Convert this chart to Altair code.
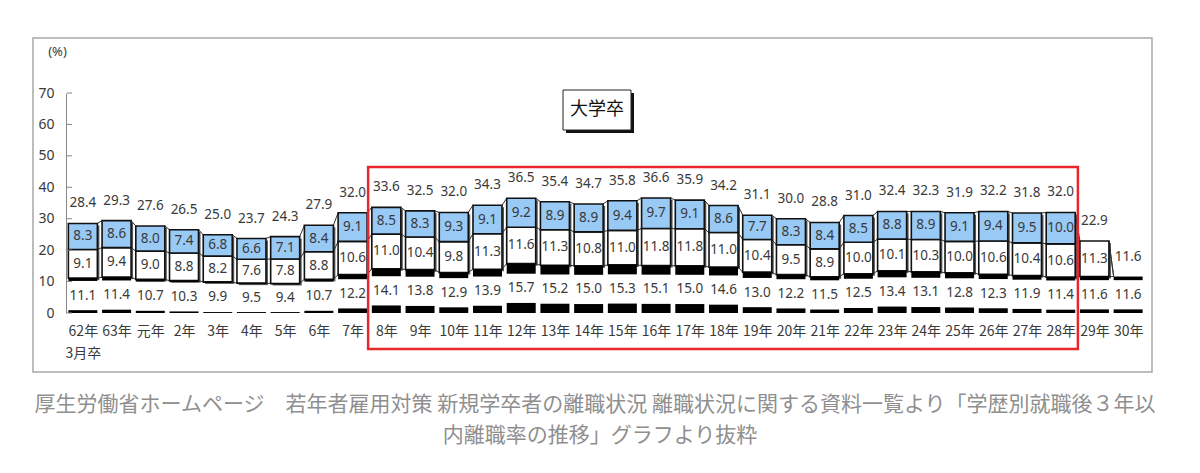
import altair as alt
import pandas as pd

categories = ["62年", "63年", "元年", "2年", "3年", "4年", "5年", "6年", "7年",
              "8年", "9年", "10年", "11年", "12年", "13年", "14年", "15年", "16年", "17年", "18年",
              "19年", "20年", "21年", "22年", "23年", "24年", "25年", "26年", "27年", "28年",
              "29年", "30年"]
year1 = [11.1, 11.4, 10.7, 10.3, 9.9, 9.5, 9.4, 10.7, 12.2,
         14.1, 13.8, 12.9, 13.9, 15.7, 15.2, 15.0, 15.3, 15.1, 15.0, 14.6,
         13.0, 12.2, 11.5, 12.5, 13.4, 13.1, 12.8, 12.3, 11.9, 11.4,
         11.6, 11.6]
year2 = [9.1, 9.4, 9.0, 8.8, 8.2, 7.6, 7.8, 8.8, 10.6,
         11.0, 10.4, 9.8, 11.3, 11.6, 11.3, 10.8, 11.0, 11.8, 11.8, 11.0,
         10.4, 9.5, 8.9, 10.0, 10.1, 10.3, 10.0, 10.6, 10.4, 10.6,
         11.3, None]
year3 = [8.3, 8.6, 8.0, 7.4, 6.8, 6.6, 7.1, 8.4, 9.1,
         8.5, 8.3, 9.3, 9.1, 9.2, 8.9, 8.9, 9.4, 9.7, 9.1, 8.6,
         7.7, 8.3, 8.4, 8.5, 8.8, 8.9, 9.1, 9.4, 9.5, 10.0,
         None, None]
totals = [28.4, 29.3, 27.6, 26.5, 25.0, 23.7, 24.3, 27.9, 32.0,
          33.6, 32.5, 32.0, 34.3, 36.5, 35.4, 34.7, 35.8, 36.6, 35.9, 34.2,
          31.1, 30.0, 28.8, 31.0, 32.4, 32.3, 31.9, 32.2, 31.8, 32.0,
          22.9, 11.6]
y_ticks = [0, 10, 20, 30, 40, 50, 60, 70]
highlight = ["8年", "28年"]
title_text = "大学卒"
caption1 = "厚生労働省ホームページ　若年者雇用対策 新規学卒者の離職状況 離職状況に関する資料一覧より「学歴別就職後３年以"
caption2 = "内離職率の推移」グラフより抜粋"

HALF = 0.43
FONT = "Noto Sans, Noto Sans CJK JP"
JFONT = "Noto Sans CJK JP"
BLUE = "#99c9f5"
TXT = "#3a3a3a"

rows = []
for i, c in enumerate(categories):
    v1 = year1[i]
    v2 = year2[i]
    v3 = year3[i]
    c1 = v1
    c2 = c1 + (v2 or 0)
    c3 = c2 + (v3 or 0)
    band = max((v1 - 9.3) / 2, 0.3)
    rows.append(dict(idx=i, cat=c, v1=v1, v2=v2, v3=v3, c1=c1, c2=c2, c3=c3,
                     total=totals[i], left=i - HALF, right=i + HALF, band=band,
                     bandtop=c1 - band, m1=c1 / 2,
                     m2=(c1 + c2) / 2, m3=(c2 + c3) / 2))
df = pd.DataFrame(rows)

# series lines between adjacent bars
lines = []
for i in range(len(categories) - 1):
    a, b = rows[i], rows[i + 1]
    for lvl in ("c1", "c2", "c3"):
        lines.append(dict(x=a["right"], x2=b["left"], y=a[lvl], y2=b[lvl]))
ldf = pd.DataFrame(lines)

xscale = alt.Scale(domain=[-0.5, len(categories) - 0.5], nice=False, zero=False)
yscale = alt.Scale(domain=[0, 70], nice=False)

label_arr = "[" + ",".join("'" + c + "'" for c in categories) + "]"
label_expr = f"datum.value == 0 ? ['62年','   3月卒'] : {label_arr}[datum.value]"

xaxis = alt.Axis(values=list(range(len(categories))), labelExpr=label_expr,
                 domain=False, ticks=False, grid=False, title=None,
                 labelFont=JFONT, labelFontSize=14, labelColor=TXT,
                 labelPadding=11, labelBaseline="top", labelLineHeight=22,
                 labelAngle=0, labelOverlap=False, labelBound=False)
yaxis = alt.Axis(values=y_ticks, domainColor="#888", ticks=False, grid=False,
                 labelFont=FONT, labelFontSize=14, labelColor=TXT, labelPadding=12,
                 labelOverlap=False, labelBound=False,
                 title="(%)", titleAngle=0, titleX=-9, titleY=-35,
                 titleFont=FONT, titleFontSize=13, titleFontWeight="normal",
                 titleColor=TXT, titleAlign="center")


def X(f):
    return alt.X(f, scale=xscale, axis=xaxis)


def Y(f):
    return alt.Y(f, scale=yscale, axis=yaxis)


base = alt.Chart(df)
white_df = df[df["v2"].notna()]
blue_df = df[df["v3"].notna()]

shadow_w = alt.Chart(white_df).mark_rect(color="#555", xOffset=2, x2Offset=2, yOffset=2, y2Offset=2).encode(
    x=X("left:Q"), x2="right:Q", y=Y("c1:Q"), y2="c2:Q")
shadow_b = alt.Chart(blue_df).mark_rect(color="#555", xOffset=2, x2Offset=2, yOffset=2, y2Offset=2).encode(
    x=X("left:Q"), x2="right:Q", y=Y("c2:Q"), y2="c3:Q")
white = alt.Chart(white_df).mark_rect(fill="white", stroke="#111", strokeWidth=1.6).encode(
    x=X("left:Q"), x2="right:Q", y=Y("c1:Q"), y2="c2:Q")
blue = alt.Chart(blue_df).mark_rect(fill=BLUE, stroke="#111", strokeWidth=1.6).encode(
    x=X("left:Q"), x2="right:Q", y=Y("c2:Q"), y2="c3:Q")
bottom_band = base.mark_rect(color="#000").encode(
    x=X("left:Q"), x2="right:Q", y=Y("band:Q"), y2=alt.Y2(datum=0))
top_band = base.mark_rect(color="#000").encode(
    x=X("left:Q"), x2="right:Q", y=Y("bandtop:Q"), y2="c1:Q")
series = alt.Chart(ldf).mark_rule(color="#333", strokeWidth=1).encode(
    x=X("x:Q"), x2="x2:Q", y=Y("y:Q"), y2="y2:Q")

lab_kw = dict(font=FONT, fontSize=13.5, color=TXT, baseline="middle", align="center")
t1 = base.mark_text(**lab_kw).encode(x=X("idx:Q"), y=Y("m1:Q"), text=alt.Text("v1:Q", format=".1f"))
t2 = alt.Chart(white_df).mark_text(**lab_kw).encode(x=X("idx:Q"), y=Y("m2:Q"), text=alt.Text("v2:Q", format=".1f"))
t3 = alt.Chart(blue_df).mark_text(**lab_kw).encode(x=X("idx:Q"), y=Y("m3:Q"), text=alt.Text("v3:Q", format=".1f"))
tt = base.mark_text(dy=-20, **lab_kw).encode(x=X("idx:Q"), y=Y("c3:Q"), text=alt.Text("total:Q", format=".1f"))

tick_df = pd.DataFrame({"t": y_ticks})
yticks = alt.Chart(tick_df).mark_rule(color="#888", strokeWidth=1).encode(
    x=alt.value(1), x2=alt.value(6), y=Y("t:Q"))

one = pd.DataFrame({"a": [0]})
h0 = categories.index(highlight[0])
h1 = categories.index(highlight[1])
hl_df = pd.DataFrame({"hx": [h0 - 0.54], "hx2": [h1 + 0.51]})
red = alt.Chart(hl_df).mark_rect(fill=None, stroke="#e8262b", strokeWidth=2.5, clip=False).encode(
    x=X("hx:Q"), x2="hx2:Q", y=alt.value(74), y2=alt.value(256))

frame = alt.Chart(one).mark_rect(fill=None, stroke="#a8a8a8", strokeWidth=1.5, clip=False).encode(
    x=alt.value(-33), x2=alt.value(1086), y=alt.value(-55), y2=alt.value(279))

tb_shadow = alt.Chart(one).mark_rect(color="#111", clip=False).encode(
    x=alt.value(500), x2=alt.value(568), y=alt.value(0), y2=alt.value(40))
tb_box = alt.Chart(one).mark_rect(fill="white", stroke="#222", strokeWidth=1, clip=False).encode(
    x=alt.value(497), x2=alt.value(565), y=alt.value(-3), y2=alt.value(37))
tb_text = alt.Chart(one).mark_text(font=JFONT, fontSize=18, color="#111", baseline="middle", align="center").encode(
    x=alt.value(531), y=alt.value(17), text=alt.value(title_text))

cap1 = alt.Chart(one).mark_text(font=JFONT, fontSize=21, color="#8f8f8f", baseline="middle", align="center").encode(
    x=alt.value(529), y=alt.value(312), text=alt.value(caption1))
cap2 = alt.Chart(one).mark_text(font=JFONT, fontSize=21, color="#8f8f8f", baseline="middle", align="center").encode(
    x=alt.value(534), y=alt.value(343), text=alt.value(caption2))

chart = alt.layer(
    shadow_w, shadow_b, series, white, blue, bottom_band, top_band,
    t1, t2, t3, tt, yticks, red, frame, tb_shadow, tb_box, tb_text, cap1, cap2
).properties(
    width=1079, height=220,
    autosize=alt.AutoSizeParams(type="none"),
    padding={"left": 66, "top": 93, "right": 55, "bottom": 160},
    background="white",
).configure_view(stroke=None)

chart.save("out.html", embed_options={"renderer": "svg", "actions": False})
